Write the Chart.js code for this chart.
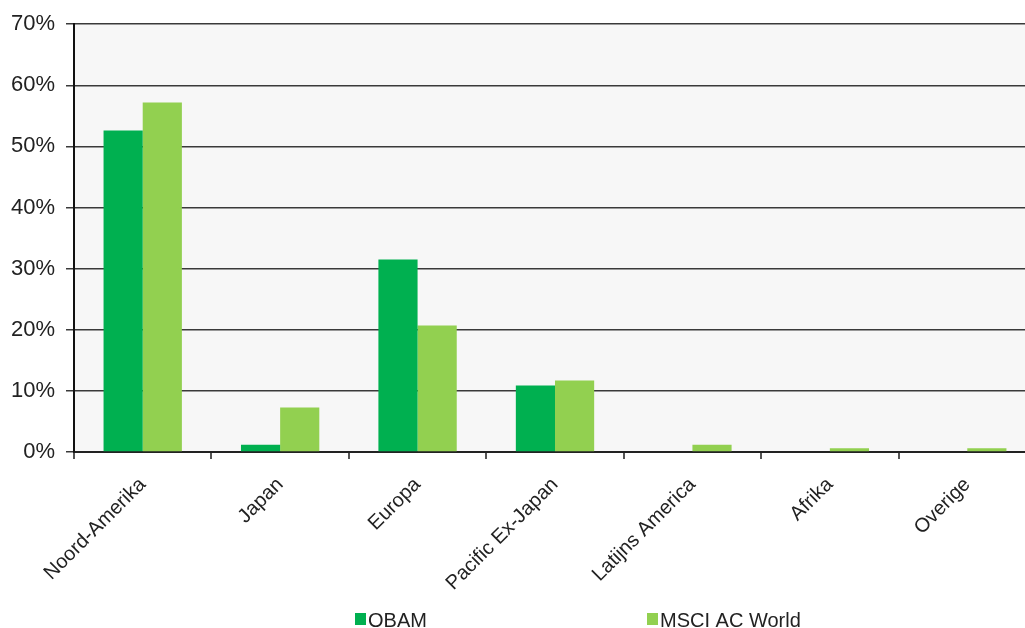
<!DOCTYPE html>
<html>
<head>
<meta charset="utf-8">
<script src="https://cdn.jsdelivr.net/npm/chart.js@4/dist/chart.umd.min.js"></script>
<style>
  html, body { margin: 0; padding: 0; background: #ffffff; overflow: hidden; }
  #wrap { position: relative; width: 1040px; height: 628px; }
</style>
</head>
<body>
<div id="wrap"><canvas id="chart"></canvas></div>
<script>
// Regional allocation (%), fund vs. benchmark
const regions = ['Noord-Amerika', 'Japan', 'Europa', 'Pacific Ex-Japan', 'Latijns America', 'Afrika', 'Overige'];
const obam = [52.6, 1.2, 31.5, 10.9, 0, 0, 0];
const msciAcWorld = [57.2, 7.3, 20.7, 11.7, 1.2, 0.6, 0.6];
const seriesNames = ['OBAM', 'MSCI AC World'];
const yTicks = [0, 10, 20, 30, 40, 50, 60, 70];

const DARK_GREEN = '#00B050';
const LIGHT_GREEN = '#92D050';
const FONT = "'Liberation Sans', Arial, sans-serif";

// Light grey plot background
const plotBackground = {
  id: 'plotBackground',
  beforeDraw(chart) {
    const { ctx, chartArea: a } = chart;
    ctx.save();
    ctx.fillStyle = '#F7F7F7';
    ctx.fillRect(a.left, a.top, a.right - a.left, a.bottom - a.top);
    ctx.restore();
  }
};

// Legend with widely spaced items under the axis labels
const spacedLegend = {
  id: 'spacedLegend',
  afterDraw(chart) {
    const { ctx, chartArea: a } = chart;
    const offsets = [281, 573];
    ctx.save();
    ctx.font = '20px ' + FONT;
    ctx.textBaseline = 'alphabetic';
    ctx.textAlign = 'left';
    chart.data.datasets.forEach((ds, i) => {
      const x = a.left + offsets[i];
      ctx.fillStyle = ds.backgroundColor;
      ctx.fillRect(x, 613, 11, 12);
      ctx.fillStyle = '#222222';
      ctx.fillText(ds.label, x + 13, 627);
    });
    ctx.restore();
  }
};

new Chart(document.getElementById('chart'), {
  type: 'bar',
  data: {
    labels: regions,
    datasets: [
      { label: seriesNames[0], data: obam, backgroundColor: DARK_GREEN, borderWidth: 0 },
      { label: seriesNames[1], data: msciAcWorld, backgroundColor: LIGHT_GREEN, borderWidth: 0 }
    ]
  },
  options: {
    responsive: true,
    maintainAspectRatio: false,
    animation: false,
    events: [],
    layout: { padding: { top: 22, right: 4, left: 0, bottom: 0 } },
    datasets: { bar: { categoryPercentage: 0.57, barPercentage: 1.0 } },
    plugins: { legend: { display: false }, tooltip: { enabled: false } },
    scales: {
      x: {
        offset: true,
        grid: {
          offset: true,
          drawOnChartArea: false,
          drawTicks: true,
          tickLength: 7,
          color: '#555555',
          lineWidth: 2
        },
        border: { display: true, color: '#222222', width: 2 },
        ticks: {
          autoSkip: false,
          minRotation: 45,
          maxRotation: 45,
          padding: 14,
          color: '#222222',
          font: { family: FONT, size: 20 }
        },
        afterFit(scale) { scale.height = 176; }
      },
      y: {
        min: 0,
        max: 70,
        afterBuildTicks(scale) { scale.ticks = yTicks.map(v => ({ value: v })); },
        grid: {
          color: '#3a3a3a',
          lineWidth: 1.5,
          drawTicks: true,
          tickLength: 8
        },
        border: { display: true, color: '#111111', width: 2 },
        ticks: {
          padding: 11,
          color: '#222222',
          font: { family: FONT, size: 22 },
          callback: v => v + '%'
        },
        afterFit(scale) { scale.width = 74; }
      }
    }
  },
  plugins: [plotBackground, spacedLegend]
});
</script>
</body>
</html>
